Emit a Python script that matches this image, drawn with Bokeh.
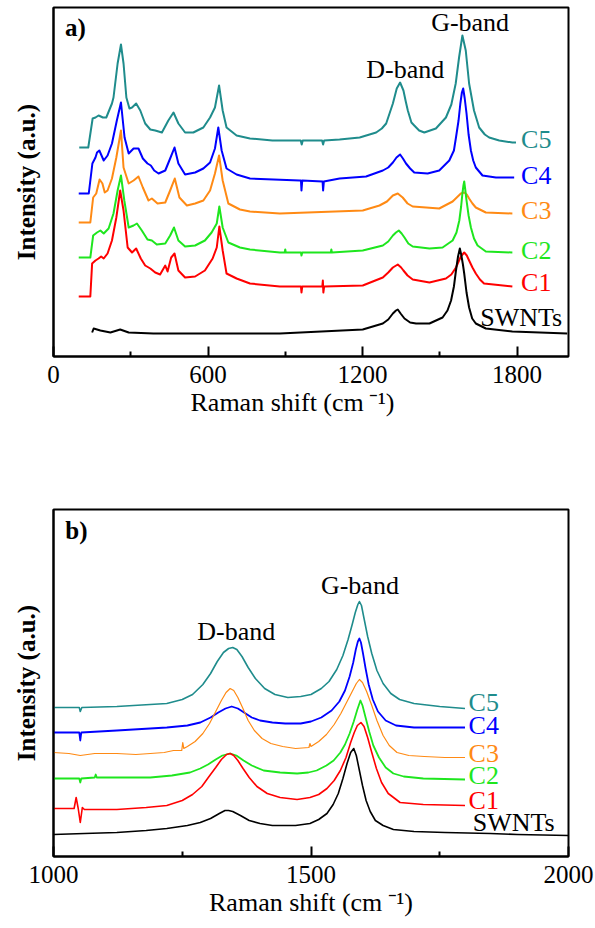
from bokeh.plotting import figure
from bokeh.models import FixedTicker, Label, Range1d, Title
from bokeh.layouts import column
from bokeh.embed import file_html
from bokeh.resources import INLINE

FONT = "Liberation Serif"

# ---------------- panel a) data : Raman shift (cm-1) vs intensity (a.u.) ----------------
a_c5_x = [100, 135, 152, 163, 175, 192, 205, 227, 233, 249, 262, 272, 283, 295, 305, 321, 337, 356, 376, 395, 421, 446, 466, 485, 511, 543, 582, 608, 627, 643, 657, 672, 711, 763, 850, 960, 964, 968, 1043, 1047, 1051, 1111, 1189, 1253, 1275, 1292, 1305, 1318, 1333, 1346, 1359, 1368, 1376, 1390, 1401, 1420, 1440, 1485, 1524, 1545, 1562, 1575, 1588, 1601, 1614, 1633, 1653, 1675, 1692, 1731, 1782, 1796]
a_c5_y = [209, 209, 238, 239, 241, 239, 239, 253, 259, 293, 312, 293, 259, 248, 249, 253, 246, 233, 227, 226, 224, 236, 244, 233, 224, 224, 229, 239, 249, 271, 246, 229, 221, 218, 216, 216, 212, 216, 216, 212, 216, 217, 219, 224, 228, 233, 243, 253, 268, 274, 266, 255, 246, 234, 231, 226, 224, 228, 239, 252, 273, 299, 321, 306, 273, 246, 229, 222, 219, 216, 214, 214]

a_c4_x = [98, 137, 151, 163, 169, 178, 195, 210, 227, 246, 262, 276, 292, 311, 330, 347, 365, 378, 391, 408, 434, 453, 470, 485, 511, 550, 582, 608, 627, 640, 653, 672, 711, 763, 956, 961, 963, 966, 1045, 1047, 1050, 1111, 1214, 1279, 1300, 1318, 1332, 1346, 1357, 1369, 1385, 1401, 1453, 1498, 1537, 1555, 1563, 1573, 1580, 1586, 1591, 1597, 1604, 1612, 1621, 1630, 1640, 1666, 1718, 1789]
a_c4_y = [163, 163, 193, 199, 204, 206, 196, 201, 213, 236, 254, 219, 203, 208, 208, 198, 193, 191, 186, 183, 186, 198, 209, 193, 182, 184, 188, 194, 208, 229, 206, 188, 182, 178, 176, 176, 166, 176, 175, 166, 175, 178, 180, 186, 189, 194, 199, 202, 198, 193, 188, 184, 183, 186, 196, 206, 219, 236, 253, 264, 268, 258, 243, 222, 206, 196, 189, 181, 179, 179]

a_c3_x = [98, 143, 154, 166, 179, 190, 199, 210, 227, 244, 262, 272, 292, 311, 330, 347, 369, 382, 404, 434, 453, 471, 489, 518, 550, 582, 608, 627, 643, 657, 679, 724, 763, 879, 1201, 1266, 1295, 1318, 1337, 1356, 1375, 1395, 1447, 1498, 1550, 1570, 1582, 1595, 1605, 1614, 1627, 1640, 1679, 1782]
a_c3_y = [134, 134, 159, 163, 177, 173, 164, 166, 178, 199, 226, 189, 173, 176, 180, 169, 156, 158, 153, 154, 166, 178, 159, 151, 153, 156, 166, 183, 201, 176, 153, 147, 145, 143, 146, 151, 155, 161, 163, 159, 153, 150, 149, 148, 155, 160, 163, 164, 162, 158, 153, 149, 144, 143]

a_c2_x = [98, 143, 154, 169, 182, 195, 214, 233, 249, 262, 275, 292, 311, 324, 343, 365, 382, 401, 434, 453, 468, 485, 511, 550, 588, 614, 634, 644, 657, 679, 724, 763, 879, 898, 900, 902, 961, 963, 966, 1077, 1079, 1081, 1201, 1279, 1300, 1318, 1330, 1341, 1352, 1363, 1378, 1395, 1460, 1511, 1550, 1565, 1576, 1583, 1588, 1592, 1595, 1599, 1604, 1612, 1621, 1633, 1647, 1679, 1782]
a_c2_y = [99, 99, 121, 124, 126, 123, 128, 143, 166, 181, 156, 129, 131, 133, 126, 117, 116, 112, 113, 121, 129, 116, 110, 111, 116, 124, 133, 150, 129, 114, 109, 107, 104, 104, 107, 104, 104, 101, 104, 104, 107, 104, 106, 111, 115, 121, 124, 126, 123, 119, 113, 110, 108, 109, 116, 124, 136, 150, 163, 171, 175, 167, 156, 141, 129, 118, 111, 105, 104]

a_c1_x = [98, 143, 150, 163, 175, 185, 195, 210, 227, 244, 259, 272, 288, 305, 321, 339, 356, 376, 395, 414, 434, 443, 457, 470, 485, 511, 550, 588, 618, 634, 644, 657, 672, 711, 763, 879, 961, 963, 966, 1044, 1046, 1048, 1051, 1201, 1279, 1300, 1318, 1337, 1350, 1359, 1375, 1395, 1460, 1524, 1545, 1563, 1575, 1582, 1595, 1605, 1614, 1627, 1640, 1656, 1672, 1782]
a_c1_y = [60, 60, 93, 96, 98, 100, 98, 103, 116, 139, 166, 146, 109, 104, 108, 98, 91, 88, 84, 82, 91, 85, 99, 103, 86, 79, 80, 86, 98, 109, 130, 106, 83, 78, 73, 70, 70, 64, 70, 70, 76, 64, 70, 71, 79, 84, 89, 92, 89, 86, 81, 77, 74, 78, 82, 89, 96, 100, 104, 101, 96, 89, 83, 77, 73, 70]

a_sw_x = [150, 156, 182, 221, 259, 292, 388, 763, 879, 1201, 1279, 1300, 1318, 1330, 1337, 1348, 1363, 1385, 1408, 1460, 1511, 1530, 1544, 1555, 1563, 1571, 1578, 1584, 1590, 1595, 1604, 1614, 1626, 1640, 1679, 1782, 1995]
a_sw_y = [24, 28, 26, 24, 27, 24, 23, 23, 23, 27, 33, 37, 43, 46, 47, 43, 38, 34, 33, 33, 39, 46, 56, 70, 86, 100, 108, 101, 92, 83, 64, 49, 38, 33, 28, 25, 23]

a_ticks = [0, 600, 1200, 1800]
a_minor = [300, 900, 1500]

# ---------------- panel b) data ----------------
b_c5_x = [1000, 1050, 1052, 1055, 1123, 1220, 1250, 1270, 1290, 1305, 1318, 1330, 1340, 1348, 1356, 1366, 1378, 1392, 1410, 1430, 1455, 1480, 1500, 1520, 1535, 1550, 1562, 1572, 1580, 1586, 1591, 1594, 1598, 1603, 1610, 1618, 1628, 1640, 1655, 1672, 1700, 1750, 1799]
b_c5_y = [149, 149, 145, 149, 150, 153, 157, 162, 172, 183, 195, 204, 208, 209, 207, 200, 189, 178, 168, 162, 159, 160, 162, 168, 175, 187, 201, 217, 232, 244, 252, 255, 251, 238, 220, 203, 186, 173, 163, 157, 153, 150, 148]

b_c4_x = [1000, 1050, 1052, 1054, 1123, 1220, 1260, 1285, 1305, 1320, 1334, 1346, 1358, 1370, 1385, 1401, 1425, 1450, 1480, 1500, 1520, 1540, 1555, 1566, 1575, 1582, 1587, 1591, 1594, 1597, 1601, 1606, 1612, 1620, 1630, 1645, 1665, 1700, 1799]
b_c4_y = [124, 124, 116, 124, 126, 129, 131, 134, 139, 144, 148, 150, 148, 144, 139, 136, 134, 133, 133, 135, 139, 146, 155, 166, 180, 194, 207, 215, 218, 214, 203, 188, 172, 157, 145, 136, 131, 129, 129]

b_c3_x = [1000, 1030, 1052, 1080, 1123, 1160, 1188, 1215, 1233, 1249, 1251, 1253, 1260, 1275, 1290, 1303, 1315, 1326, 1335, 1343, 1350, 1358, 1367, 1378, 1390, 1405, 1422, 1445, 1470, 1496, 1498, 1500, 1515, 1530, 1545, 1558, 1570, 1580, 1588, 1594, 1600, 1608, 1618, 1628, 1640, 1652, 1667, 1690, 1720, 1760, 1799]
b_c3_y = [104, 103, 101, 103, 103, 102, 103, 104, 106, 106, 114, 108, 110, 115, 123, 133, 145, 156, 164, 168, 166, 159, 149, 136, 126, 118, 113, 110, 108, 109, 113, 110, 115, 122, 132, 143, 155, 165, 173, 177, 174, 165, 151, 136, 121, 111, 104, 101, 100, 99, 99]

b_c2_x = [1000, 1050, 1052, 1054, 1080, 1082, 1084, 1188, 1230, 1265, 1285, 1300, 1315, 1328, 1343, 1355, 1369, 1385, 1408, 1440, 1473, 1495, 1511, 1530, 1544, 1557, 1566, 1575, 1583, 1590, 1596, 1600, 1606, 1613, 1621, 1632, 1645, 1660, 1680, 1718, 1799]
b_c2_y = [78, 78, 74, 78, 79, 82, 79, 79, 81, 84, 88, 92, 97, 101, 103, 101, 96, 91, 86, 84, 83, 84, 86, 91, 96, 104, 112, 123, 135, 147, 156, 151, 139, 125, 111, 99, 89, 83, 80, 78, 77]

b_c1_x = [1000, 1040, 1044, 1048, 1052, 1056, 1060, 1123, 1180, 1220, 1250, 1270, 1288, 1302, 1315, 1326, 1336, 1343, 1350, 1358, 1368, 1380, 1395, 1415, 1440, 1473, 1498, 1515, 1531, 1545, 1557, 1568, 1577, 1584, 1590, 1597, 1603, 1610, 1618, 1627, 1637, 1650, 1673, 1718, 1799]
b_c1_y = [48, 48, 59, 48, 34, 49, 47, 47, 49, 51, 56, 62, 70, 80, 89, 97, 102, 103, 101, 96, 88, 79, 70, 63, 59, 57, 59, 62, 68, 76, 86, 99, 114, 124, 131, 134, 130, 119, 104, 88, 74, 63, 54, 52, 51]

b_sw_x = [1000, 1060, 1123, 1180, 1220, 1260, 1285, 1305, 1322, 1333, 1340, 1348, 1363, 1380, 1401, 1425, 1447, 1470, 1498, 1515, 1531, 1543, 1553, 1562, 1570, 1577, 1583, 1588, 1594, 1600, 1607, 1615, 1625, 1640, 1660, 1700, 1760, 1848, 1900, 2000]
b_sw_y = [22, 23, 24, 26, 28, 31, 34, 38, 43, 46, 46, 45, 41, 36, 33, 31, 31, 31, 33, 37, 43, 52, 63, 78, 93, 104, 108, 101, 86, 71, 56, 45, 36, 31, 27, 25, 24, 23, 22, 21]

b_ticks = [1000, 1500, 2000]
b_minor = [1250, 1750]

names = ["C5", "C4", "C3", "C2", "C1", "SWNTs"]
colors = ["#1F8C8C", "#0000FF", "#FF8A14", "#1EE61E", "#FF0000", "#000000"]

XLABEL = "Raman shift (cm\u2009\u207b\u00b9)"


def make_fig(xr, yr, height, top, bottom, ticks, minor, xl_align, xl_offset):
    p = figure(width=595, height=height, x_range=Range1d(*xr), y_range=Range1d(*yr),
               output_backend="svg", toolbar_location=None,
               min_border_left=53, min_border_right=27,
               min_border_top=top, min_border_bottom=bottom)
    p.background_fill_color = "white"
    p.border_fill_color = "white"
    p.xgrid.visible = False
    p.ygrid.visible = False
    p.outline_line_color = "black"
    p.outline_line_width = 2
    ax = p.xaxis[0]
    ax.ticker = FixedTicker(ticks=ticks, minor_ticks=minor)
    ax.axis_line_width = 2
    ax.major_tick_in = 10
    ax.major_tick_out = 0
    ax.minor_tick_in = 5
    ax.minor_tick_out = 0
    ax.major_tick_line_width = 2
    ax.minor_tick_line_width = 2
    ax.major_label_text_font = FONT
    ax.major_label_text_font_size = "25px"
    ax.major_label_text_color = "black"
    ax.major_label_standoff = 9
    # x axis title placed under the tick labels
    p.add_layout(Title(text=XLABEL, align=xl_align, offset=xl_offset,
                       text_font=FONT, text_font_size="26px", text_font_style="normal",
                       text_color="black", standoff=0), "below")
    ay = p.yaxis[0]
    ay.ticker = FixedTicker(ticks=[])
    ay.axis_line_width = 2
    ay.major_tick_in = 0
    ay.major_tick_out = 0
    ay.major_label_standoff = 0
    ay.axis_label = "Intensity (a.u.)"
    ay.axis_label_text_font = FONT
    ay.axis_label_text_font_size = "25px"
    ay.axis_label_text_font_style = "bold"
    ay.axis_label_text_color = "black"
    ay.axis_label_standoff = 14
    return p


def add_text(p, x, y, t, color="black", size="26px", align="left", style="normal"):
    p.add_layout(Label(x=x, y=y, text=t, text_font=FONT, text_font_size=size,
                       text_color=color, text_align=align, text_baseline="alphabetic",
                       text_font_style=style))


# ---------------- panel a ----------------
pa = make_fig((0, 2000), (0, 349), 440, 7, 84, a_ticks, a_minor, "left", 137)
a_series = [(a_c5_x, a_c5_y), (a_c4_x, a_c4_y), (a_c3_x, a_c3_y),
            (a_c2_x, a_c2_y), (a_c1_x, a_c1_y), (a_sw_x, a_sw_y)]
for (xs, ys), c in zip(a_series, colors):
    pa.line(xs, ys, line_color=c, line_width=2, line_join="round")
a_lab_y = [217, 181, 146, 106, 74, 39]
for n, c, yy in zip(names, colors, a_lab_y):
    add_text(pa, 1657 if n == "SWNTs" else 1816, yy, n, color=c)
add_text(pa, 1366, 287, "D-band", align="center")
add_text(pa, 1618, 334, "G-band", align="center")
add_text(pa, 45, 329, "a)", size="25px", style="bold")

# ---------------- panel b ----------------
pb = make_fig((1000, 2000), (0, 347), 488, 69, 72, b_ticks, b_minor, "center", 0)
b_series = [(b_c5_x, b_c5_y), (b_c4_x, b_c4_y), (b_c3_x, b_c3_y),
            (b_c2_x, b_c2_y), (b_c1_x, b_c1_y), (b_sw_x, b_sw_y)]
b_widths = [1.6, 1.8, 1.2, 1.8, 1.6, 1.6]
for (xs, ys), c, w in zip(b_series, colors, b_widths):
    pb.line(xs, ys, line_color=c, line_width=w, line_join="round")
b_lab_y = [154, 131, 103, 81, 56, 34]
for n, c, yy in zip(names, colors, b_lab_y):
    add_text(pb, 1814 if n == "SWNTs" else 1806, yy, n, color=c)
add_text(pb, 1355, 225, "D-band", align="center")
add_text(pb, 1595, 271, "G-band", align="center")
add_text(pb, 1023, 326, "b)", size="25px", style="bold")

layout = column(pa, pb)
open("out.html", "w").write(file_html(layout, INLINE))
